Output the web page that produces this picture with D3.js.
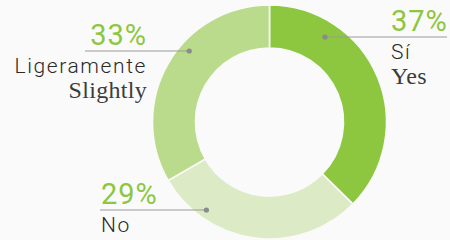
<!DOCTYPE html>
<html><head><meta charset="utf-8">
<script src="https://cdn.jsdelivr.net/npm/d3@7"></script>
<style>
html,body{margin:0;padding:0;background:#fafafa;}
svg{display:block;}
</style></head>
<body>
<script>
const categories = ["Sí", "No", "Ligeramente"];
const categoriesEn = ["Yes", "", "Slightly"];
const values = [37, 29, 33];
const percentLabels = ["37%", "29%", "33%"];
const colors = ["#8dc63f", "#dcebc6", "#badb8b"];

const W = 450, H = 240;
const cx = 269.5, cy = 122;
const rOuter = 117, rInner = 74;

const svg = d3.select("body").append("svg").attr("width", W).attr("height", H);
svg.append("rect").attr("width", W).attr("height", H).attr("fill", "#fafafa");

const pie = d3.pie().sort(null).value(d => d);
const arcs = pie(values);
const arc = d3.arc().innerRadius(rInner).outerRadius(rOuter);

const g = svg.append("g").attr("transform", `translate(${cx},${cy})`);
g.selectAll("path").data(arcs).enter().append("path")
  .attr("d", arc)
  .attr("fill", (d, i) => colors[i])
  .attr("stroke", "#fafafa")
  .attr("stroke-width", 1.6);

// annotation layout (label placement, not data)
const layout = [
  {angFrac: 0.246, r: 101.5, lineY: 37, lineEnd: 447, textX: 391, anchor: "start"},
  {angFrac: 0.77, r: 108, lineY: 210, lineEnd: 100, textX: 101, anchor: "start"},
  {angFrac: 0.595, r: 107, lineY: 51, lineEnd: 85, textX: 147, anchor: "end"}
];

arcs.forEach((a, i) => {
  const L = layout[i];
  const ang = a.startAngle + (a.endAngle - a.startAngle) * L.angFrac;
  const dx = cx + Math.sin(ang) * L.r;
  svg.append("line")
    .attr("x1", dx).attr("y1", L.lineY)
    .attr("x2", L.lineEnd).attr("y2", L.lineY)
    .attr("stroke", "#9a9a9a").attr("stroke-width", 1.2);
  svg.append("circle").attr("cx", dx).attr("cy", L.lineY).attr("r", 2.6).attr("fill", "#8a8a8a");

  svg.append("text")
    .attr("x", L.textX).attr("y", L.lineY - 6)
    .attr("text-anchor", L.anchor)
    .attr("font-family", "Roboto")
    .attr("font-size", 29)
    .attr("letter-spacing", 1)
    .attr("fill", "#8dc63f")
    .text(percentLabels[i]);

  svg.append("text")
    .attr("x", L.textX).attr("y", L.lineY + 22)
    .attr("text-anchor", L.anchor)
    .attr("font-family", "Roboto").attr("font-weight", 300)
    .attr("font-size", 21)
    .attr("letter-spacing", 1.6)
    .attr("fill", "#2a2a2a")
    .text(categories[i]);

  if (categoriesEn[i]) {
    svg.append("text")
      .attr("x", L.textX).attr("y", L.lineY + 47)
      .attr("text-anchor", L.anchor)
      .attr("font-family", "'Liberation Serif', 'Times New Roman', serif")
      .attr("font-weight", 400)
      .attr("font-size", 24)
      .attr("letter-spacing", 0.3)
      .attr("fill", "#3c3c3c")
      .text(categoriesEn[i]);
  }
});
</script>
</body></html>
